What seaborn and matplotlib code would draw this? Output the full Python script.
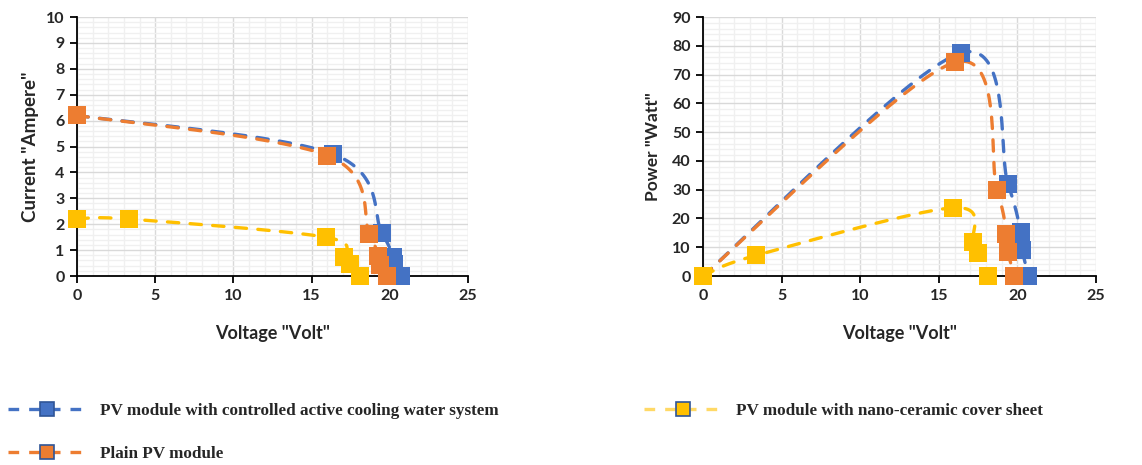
import numpy as np
import pandas as pd
import matplotlib
matplotlib.use("Agg")
import matplotlib.pyplot as plt
from matplotlib.lines import Line2D
from matplotlib.ticker import MultipleLocator
import seaborn as sns

# ---- measured data -------------------------------------------------------
series_names = [
    "PV module with controlled active cooling water system",
    "Plain PV module",
    "PV module with nano-ceramic cover sheet",
]

# I-V curves (Voltage in V, Current in A)
cooled_v_iv = [0.0, 16.4, 19.5, 20.2, 20.3, 20.7]
cooled_i = [6.2, 4.7, 1.65, 0.75, 0.45, 0.0]
plain_v_iv = [0.0, 16.0, 18.7, 19.25, 19.4, 19.8]
plain_i = [6.2, 4.65, 1.62, 0.76, 0.43, 0.0]
nano_v_iv = [0.0, 3.3, 15.9, 17.1, 17.45, 18.1]
nano_i = [2.2, 2.2, 1.5, 0.72, 0.48, 0.0]

# P-V curves (Voltage in V, Power in W)
cooled_v_pv = [0.0, 16.4, 19.4, 20.2, 20.3, 20.7]
cooled_p = [0.0, 77.5, 32.0, 15.3, 9.2, 0.0]
plain_v_pv = [0.0, 16.0, 18.7, 19.3, 19.4, 19.8]
plain_p = [0.0, 74.2, 30.0, 14.6, 8.4, 0.0]
nano_v_pv = [0.0, 3.4, 15.9, 17.2, 17.5, 18.1]
nano_p = [0.0, 7.2, 23.7, 11.9, 8.1, 0.0]

colors = ["#4472C4", "#ED7D31", "#FFC000"]
legend_line_colors = ["#4472C4", "#ED7D31", "#FFD966"]
marker_edge = "#2F5597"

# ---- styling --------------------------------------------------------------
sns.set_theme(style="white")
plt.rcParams["font.family"] = ["Lato", "DejaVu Sans"]
plt.rcParams["font.weight"] = "bold"

TICK_FS = 11.5

W, H = 1142, 465
fig = plt.figure(figsize=(W / 100, H / 100), dpi=100)
ax_iv = fig.add_axes([77 / W, 1 - 276 / H, (468 - 77) / W, (276 - 17) / H])
ax_pv = fig.add_axes([703 / W, 1 - 276 / H, (1096 - 703) / W, (276 - 17) / H])


def smooth_path(ax, xs, ys, n=40):
    """Excel-style smoothed line: cubic Bezier through the points,
    control points built from neighbours in display space."""
    pts = ax.transData.transform(np.column_stack([xs, ys]))
    ext = np.vstack([pts[0], pts, pts[-1]])
    out = []
    t = np.linspace(0, 1, n)[:, None]
    for i in range(len(pts) - 1):
        p0, p1 = ext[i + 1], ext[i + 2]
        c1 = p0 + (ext[i + 2] - ext[i]) / 6.0
        c2 = p1 - (ext[i + 3] - ext[i + 1]) / 6.0
        seg = ((1 - t) ** 3) * p0 + 3 * ((1 - t) ** 2) * t * c1 \
            + 3 * (1 - t) * t ** 2 * c2 + t ** 3 * p1
        out.append(seg if i == 0 else seg[1:])
    path = np.vstack(out)
    return ax.transData.inverted().transform(path)


def style_axes(ax, ymax, ymajor, yminor):
    ax.set_xlim(0, 25)
    ax.set_ylim(0, ymax)
    ax.xaxis.set_major_locator(MultipleLocator(5))
    ax.xaxis.set_minor_locator(MultipleLocator(1))
    ax.yaxis.set_major_locator(MultipleLocator(ymajor))
    ax.yaxis.set_minor_locator(MultipleLocator(yminor))
    ax.grid(True, which="major", color="#D9D9D9", lw=1.0)
    ax.grid(True, which="minor", color="#F0F0F0", lw=1.0)
    ax.set_axisbelow(True)
    for s in ["top", "right"]:
        ax.spines[s].set_visible(False)
    for s in ["left", "bottom"]:
        ax.spines[s].set_color("black")
        ax.spines[s].set_linewidth(1.3)
    ax.tick_params(which="major", direction="out", length=5, width=1.3,
                   color="black", labelsize=TICK_FS, pad=4, bottom=True, left=True)
    ax.tick_params(which="minor", length=0)


style_axes(ax_iv, 10, 1, 0.2)
style_axes(ax_pv, 90, 10, 2)

iv_sets = [(cooled_v_iv, cooled_i), (plain_v_iv, plain_i), (nano_v_iv, nano_i)]
pv_sets = [(cooled_v_pv, cooled_p), (plain_v_pv, plain_p), (nano_v_pv, nano_p)]
draw_order = [0, 2, 1]

for ax, sets in [(ax_iv, iv_sets), (ax_pv, pv_sets)]:
    for k in draw_order:
        xs, ys = sets[k]
        curve = smooth_path(ax, xs, ys)
        df_curve = pd.DataFrame({"x": curve[:, 0], "y": curve[:, 1]})
        sns.lineplot(data=df_curve, x="x", y="y", ax=ax, sort=False,
                     estimator=None, color=colors[k], lw=2.4,
                     linestyle=(0, (3.4, 3.4)), dash_capstyle="round",
                     zorder=3 + k, legend=False)
        df_pts = pd.DataFrame({"x": xs, "y": ys})
        sns.scatterplot(data=df_pts, x="x", y="y", ax=ax, marker="s", s=185,
                        color=colors[k], edgecolor=colors[k], linewidth=0,
                        zorder=6 + k, clip_on=False, legend=False)
    for lab in ax.get_xticklabels() + ax.get_yticklabels():
        lab.set_fontweight("bold")
    ax.set_xlabel('Voltage "Volt"', fontsize=13, fontweight="bold", labelpad=16)

ax_iv.set_ylabel('Current "Ampere"', fontsize=13.5, fontweight="bold", labelpad=5)
ax_pv.set_ylabel('Power "Watt"', fontsize=12.5, fontweight="bold", labelpad=8)

# ---- legend ---------------------------------------------------------------
handles = [
    Line2D([0], [0], color=legend_line_colors[k], lw=2.4,
           linestyle=(0, (3.2, 3.0)), marker="s", markersize=10.5,
           markerfacecolor=colors[k], markeredgecolor=marker_edge,
           markeredgewidth=1.2)
    for k in range(3)
]
fig.legend(handles, series_names, loc="upper left",
           bbox_to_anchor=(8 / W, 1 - 403 / H), ncol=2, frameon=False,
           prop={"family": ["Liberation Serif"], "weight": "bold", "size": 12.3},
           handlelength=4.6, handletextpad=0.8, columnspacing=8.5,
           labelspacing=1.6, borderpad=0, borderaxespad=0)

fig.savefig("out.png", dpi=100)
